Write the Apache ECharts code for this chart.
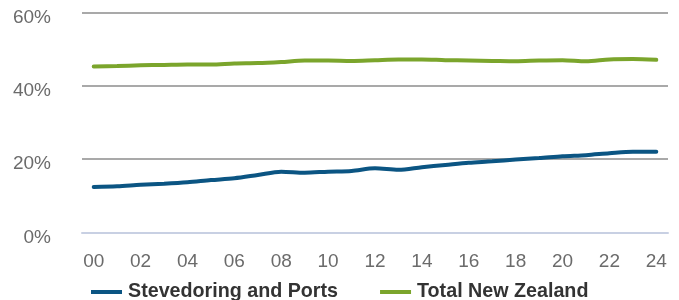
<!DOCTYPE html>
<html>
<head>
<meta charset="utf-8">
<script src="https://cdn.jsdelivr.net/npm/echarts@6/dist/echarts.min.js"></script>
<style>
  html, body { margin: 0; padding: 0; background: #fff; }
  #chart { width: 679px; height: 300px; }
</style>
</head>
<body>
<div id="chart"></div>
<script>
// years 2000-2024, shown as two digits
var years = ['00','01','02','03','04','05','06','07','08','09','10','11','12',
             '13','14','15','16','17','18','19','20','21','22','23','24'];
// share of workforce (%)
var stevedoring = [12.4, 12.6, 13.0, 13.3, 13.7, 14.3, 14.8, 15.7, 16.6, 16.3, 16.6, 16.8, 17.5,
                   17.1, 17.8, 18.4, 19.0, 19.4, 19.9, 20.3, 20.8, 21.1, 21.6, 22.0, 22.0];
var totalNZ = [45.3, 45.4, 45.6, 45.7, 45.8, 45.8, 46.1, 46.2, 46.5, 46.9, 46.9, 46.8, 47.0,
               47.2, 47.2, 47.0, 46.9, 46.8, 46.7, 46.9, 47.0, 46.7, 47.2, 47.3, 47.1];
var seriesNames = ['Stevedoring and Ports', 'Total New Zealand'];

var myChart = echarts.init(document.getElementById('chart'));
myChart.setOption({
    animation: false,
    textStyle: { fontFamily: 'Liberation Sans, Arial, sans-serif' },
    grid: { left: 82, right: 11, top: 12.5, bottom: 67.5 },
    legend: {
        left: 86,
        top: 277,
        icon: 'rect',
        itemWidth: 31,
        itemHeight: 4,
        itemGap: 42,
        textStyle: { fontSize: 19.7, fontWeight: 'bold', color: '#333', padding: [0, 0, 0, 1] },
        data: seriesNames
    },
    xAxis: {
        type: 'category',
        data: years,
        boundaryGap: true,
        axisTick: { show: false },
        axisLine: { lineStyle: { color: '#c8d0e3', width: 2 } },
        axisLabel: { interval: 1, fontSize: 19, color: '#6b6b6b', margin: 20 }
    },
    yAxis: {
        type: 'value',
        min: 0,
        max: 60,
        interval: 20,
        axisLine: { show: false },
        axisTick: { show: false },
        splitLine: { lineStyle: { color: '#8c8c8c', width: 1.5 } },
        axisLabel: {
            formatter: '{value}%', fontSize: 19, color: '#6b6b6b', margin: 31,
            verticalAlign: 'top', lineHeight: 10
        }
    },
    series: [
        {
            name: seriesNames[0],
            type: 'line',
            data: stevedoring,
            smooth: 0.3,
            showSymbol: false,
            color: '#0b5583',
            lineStyle: { width: 4, color: '#0b5583', cap: 'round' }
        },
        {
            name: seriesNames[1],
            type: 'line',
            data: totalNZ,
            smooth: 0.3,
            showSymbol: false,
            color: '#7ba52c',
            lineStyle: { width: 4, color: '#7ba52c', cap: 'round' }
        }
    ]
});
window.addEventListener('resize', myChart.resize);
</script>
</body>
</html>
